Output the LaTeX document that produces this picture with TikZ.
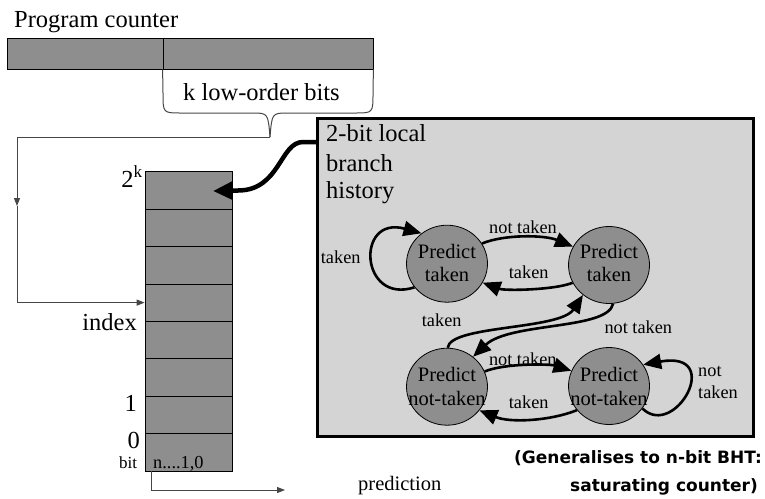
\documentclass[tikz,border=0pt]{standalone}
\usepackage{fontspec}
\setmainfont{Liberation Serif}
\newfontfamily\notefont{DejaVu Sans}
\usetikzlibrary{arrows.meta,shapes.geometric}
\definecolor{dgray}{RGB}{142,142,142}
\definecolor{lgray}{RGB}{212,212,212}
\definecolor{lineg}{RGB}{70,70,70}
\newcommand\fA{\fontsize{24.5}{28}\selectfont}
\newcommand\fB{\fontsize{20.5}{24}\selectfont}
\newcommand\fC{\fontsize{18.3}{22}\selectfont}
\newcommand\fD{\fontsize{17}{20}\selectfont}
\begin{document}
\begin{tikzpicture}[x=1pt,y=-1pt,
  txt/.style={inner sep=0pt, anchor=base west},
  txtr/.style={inner sep=0pt, anchor=base east},
  txtc/.style={inner sep=0pt, anchor=base},
  thinl/.style={draw=lineg, line width=1pt},
  thinarrow/.style={thinl, -{Triangle[length=8pt,width=6pt]}},
  sarrow/.style={line width=2.6pt, -{Triangle[length=18pt,width=15pt]}},
  cell/.style={draw, fill=dgray, minimum width=87.3pt, minimum height=37.4pt, inner sep=0pt, line width=0.8pt},
  pcbox/.style={draw, fill=dgray, minimum height=31pt, inner sep=0pt, line width=0.8pt},
  state/.style={ellipse, draw, fill=dgray, minimum width=81pt, minimum height=77pt, inner sep=0pt, line width=0.8pt},
  notetxt/.style={txtr, font=\notefont\bfseries\fontsize{17}{20}\selectfont}]
\useasboundingbox (0,0) rectangle (765,498);

% program counter
\node[txt] (pctext) at (14,27) {\fA Program counter};
\node[pcbox, minimum width=156pt] (pcl) at (85,53.5) {};
\node[pcbox, minimum width=210pt] (pcr) at (268,53.5) {};
\node[txt] (ktext) at (183,100) {\fA k low-order bits};

% brace
\coordinate (bt) at (270,137);
\draw[thinl] (pcr.south west) -- (163,93) .. controls (163,113) .. (181,113) -- (252,113)
  .. controls (268,113) .. (bt);
\draw[thinl] (pcr.south east) -- (373,93) .. controls (373,113) .. (355,113) -- (288,113)
  .. controls (272,113) .. (bt);

% table
\foreach \i/\y in {8/190.4,7/227.8,6/265.2,5/302.6,4/340.0,3/377.4,2/414.8,1/452.2}{
  \node[cell] (r\i) at (188.7,\y) {};
}
\node[txtr] (twok) at (143,187) {\fA 2\textsuperscript{k}};
\node[txtr] (idx) at (137,330) {\fA index};
\node[txtr] (one) at (137,411.7) {\fA 1};
\node[txtr] (zero) at (140,448) {\fA 0};
\node[txt] (bit) at (119,468) {\fD bit};
\node[txt] (bits) at (153,468) {\fC n....1,0};

% index path
\coordinate (c1) at (17,137);
\coordinate (c2) at (17,206);
\coordinate (c3) at (17,302.6);
\draw[thinarrow] (bt) -- (c1) -- (c2);
\draw[thinarrow] (c2) -- (c3) -- (r5.west);

% prediction
\coordinate (p0) at (151,471);
\coordinate (p1) at (151,490);
\coordinate (p2) at (285,490);
\draw[thinarrow] (p0) -- (p1) -- (p2);
\node[txt] (pred) at (358,490) {\fB prediction};

% big box
\node[draw, line width=3pt, fill=lgray, minimum width=436pt, minimum height=318.4pt, inner sep=0pt] (box) at (535,277.5) {};
\node[txt] (h1) at (326,141.7) {\fA 2-bit local};
\node[txt] (h2) at (326,171.7) {\fA branch};
\node[txt] (h3) at (326,198) {\fA history};

% thick connector
\coordinate (bx) at (317,142);
\coordinate (rtip) at (213,191);
\draw[line width=4.5pt, -{Triangle[length=19pt,width=17pt]}] (bx) -- (303,142)
  .. controls (280,142) and (280,190.5) .. (238,190.5) -- (rtip);

% states
\node[state] (pt1) at (447,263.7) {};
\node[state] (pt2) at (609,265) {};
\node[state] (pn1) at (447,386.7) {};
\node[state] (pn2) at (609,386) {};
\node[txtc] (pt1a) at (447,258.3) {\fB Predict};
\node[txtc] (pt1b) at (447,281.7) {\fB taken};
\node[txtc] (pt2a) at (609,258.3) {\fB Predict};
\node[txtc] (pt2b) at (609,281.7) {\fB taken};
\node[txtc] (pn1a) at (447,381.7) {\fB Predict};
\node[txtc] (pn1b) at (447,405) {\fB not-taken};
\node[txtc] (pn2a) at (609,381.7) {\fB Predict};
\node[txtc] (pn2b) at (609,405) {\fB not-taken};

% transitions
\draw[sarrow] (pt1.30) .. controls (505,234) and (545,235) .. (pt2.153);
\draw[sarrow] (pt2.206) .. controls (555,290) and (505,291) .. (pt1.-28);
\draw[sarrow] (pt1.216) .. controls (360,305) and (355,215) .. (pt1.130);
\draw[sarrow] (pn1.22) .. controls (505,363) and (550,364) .. (pn2.158);
\draw[sarrow] (pn2.217) .. controls (550,421) and (510,423) .. (pn1.-36);
\draw[sarrow] (pn2.-34) .. controls (675,440) and (725,350) .. (pn2.32);
\draw[sarrow] (pt2.-84) .. controls (608,330) and (510,322) .. (pn1.49);
\draw[sarrow] (pn1.89) .. controls (450,325) and (560,330) .. (pt2.229);

% transition labels
\node[txtc] (l1) at (523,233) {\fC not taken};
\node[txtc] (l2) at (528.7,278.3) {\fC taken};
\node[txt] (l3) at (320.7,263.3) {\fC taken};
\node[txtc] (l4) at (441.7,326.7) {\fC taken};
\node[txtc] (l5) at (638.3,333.3) {\fC not taken};
\node[txtc] (l6) at (522.8,365) {\fC not taken};
\node[txtc] (l7) at (528.7,408.3) {\fC taken};
\node[txt] (l8) at (698,376.7) {\fC not};
\node[txt] (l9) at (698,398.3) {\fC taken};

% note
\node[notetxt] (n1) at (762,463) {(Generalises to n-bit BHT:};
\node[notetxt] (n2) at (758,491.7) {saturating counter)};
\end{tikzpicture}
\end{document}
